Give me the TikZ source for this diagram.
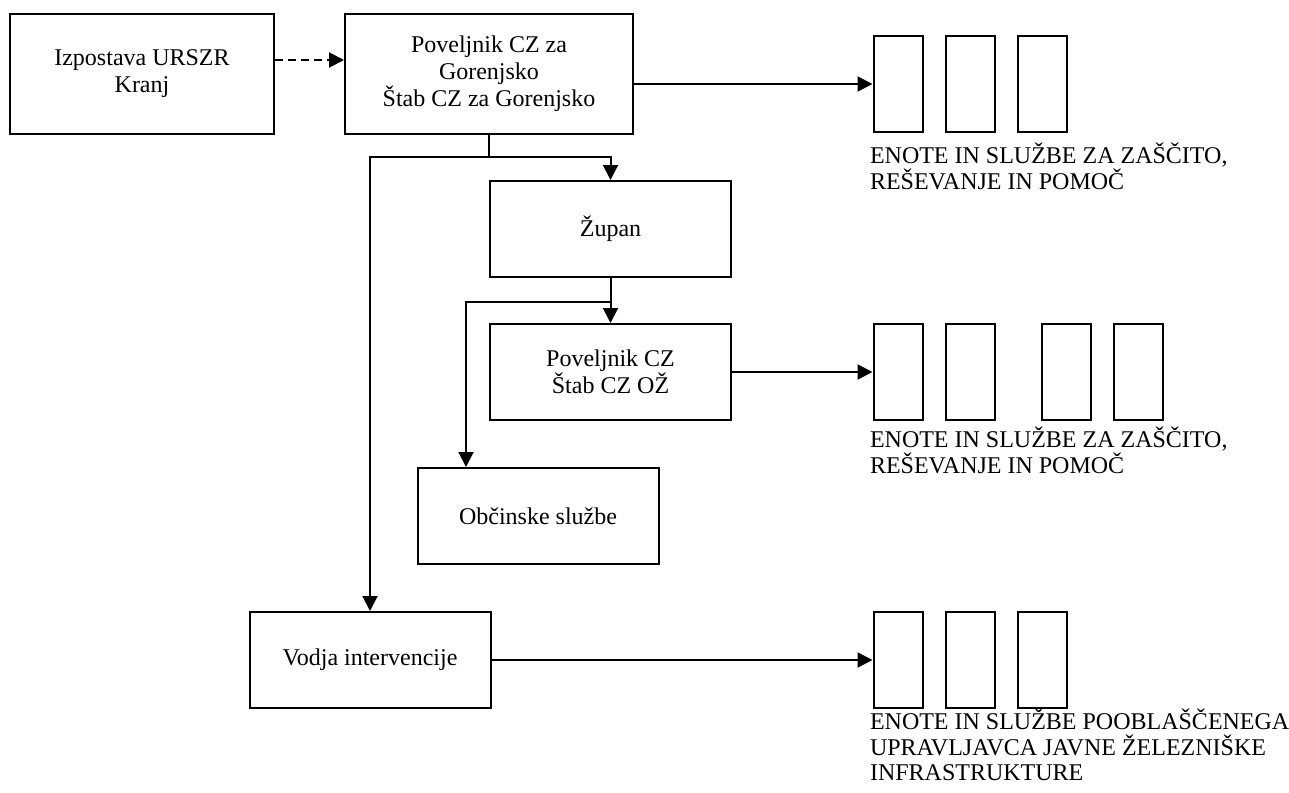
\documentclass[tikz,border=0pt]{standalone}
\usepackage{fontspec}
\setmainfont{Liberation Serif}
\usetikzlibrary{arrows.meta}

\begin{document}
\begin{tikzpicture}[x = 0.5pt, y = -0.5pt, line width = 1pt,
    >= {Triangle[length = 7.5pt, width = 7.5pt]},
    every node/.style = {font = \fontsize{12pt}{13.5pt}\selectfont, align = center},
    box/.style = {draw, minimum width = 120.5pt, minimum height = 48pt},
    unit/.style = {draw, minimum width = 24.5pt, minimum height = 48pt, inner sep = 0pt},
    note/.style = {anchor = north west, align = left, inner sep = 0pt,
        font = \fontsize{12pt}{12.75pt}\selectfont}]
    \useasboundingbox (0,0) rectangle (1289,792);
    % boxes
    \node[box, minimum width = 132pt, minimum height = 60pt] (izpostava) at (142,74) {Izpostava URSZR\\Kranj};
    \node[box, minimum width = 144pt, minimum height = 60pt] (regija) at (489,74) {Poveljnik CZ za\\Gorenjsko\\Štab CZ za Gorenjsko};
    \node[box] (zupan) at (610.5,229) {Župan};
    \node[box] (obcina) at (610.5,372) {Poveljnik CZ\\Štab CZ OŽ};
    \node[box] (sluzbe) at (538,516) {Občinske službe};
    \node[box] (vodja) at (370,660) {Vodja intervencije};
    % units
    \foreach \x [count = \i] in {898,970,1042.5}
        \node[unit] (a\i) at (\x,84) {};
    \foreach \x [count = \i] in {898,970.5,1066,1138.5}
        \node[unit] (b\i) at (\x,372) {};
    \foreach \x [count = \i] in {898,970,1042.5}
        \node[unit] (c\i) at (\x,660) {};
    \node[note] (na) at (869,142) {ENOTE IN SLUŽBE ZA ZAŠČITO,\\REŠEVANJE IN POMOČ};
    \node[note] (nb) at (869,426) {ENOTE IN SLUŽBE ZA ZAŠČITO,\\REŠEVANJE IN POMOČ};
    \node[note] (nc) at (869,708) {ENOTE IN SLUŽBE POOBLAŠČENEGA\\UPRAVLJAVCA JAVNE ŽELEZNIŠKE\\INFRASTRUKTURE};
    % connectors
    \coordinate (s1) at ([yshift = -10.75pt]regija.south);
    \coordinate (s2) at ([yshift = -12pt]zupan.south);
    \coordinate (s3) at ([xshift = -36pt]sluzbe.north);
    \draw[->, dash pattern = on 4pt off 2.5pt] ([yshift = 7pt]izpostava.east) -- ([yshift = 7pt]regija.west);
    \draw[->] (regija.east |- a1.west) -- (a1.west);
    \draw[->] (regija.south) -- (s1) -| (zupan.north);
    \draw[->] (s1) -| (vodja.north);
    \draw[->] (zupan.south) -- (obcina.north);
    \draw[->] (s2) -| (s3);
    \draw[->] (obcina.east) -- (b1.west);
    \draw[->] (vodja.east) -- (c1.west);
\end{tikzpicture}
\end{document}
